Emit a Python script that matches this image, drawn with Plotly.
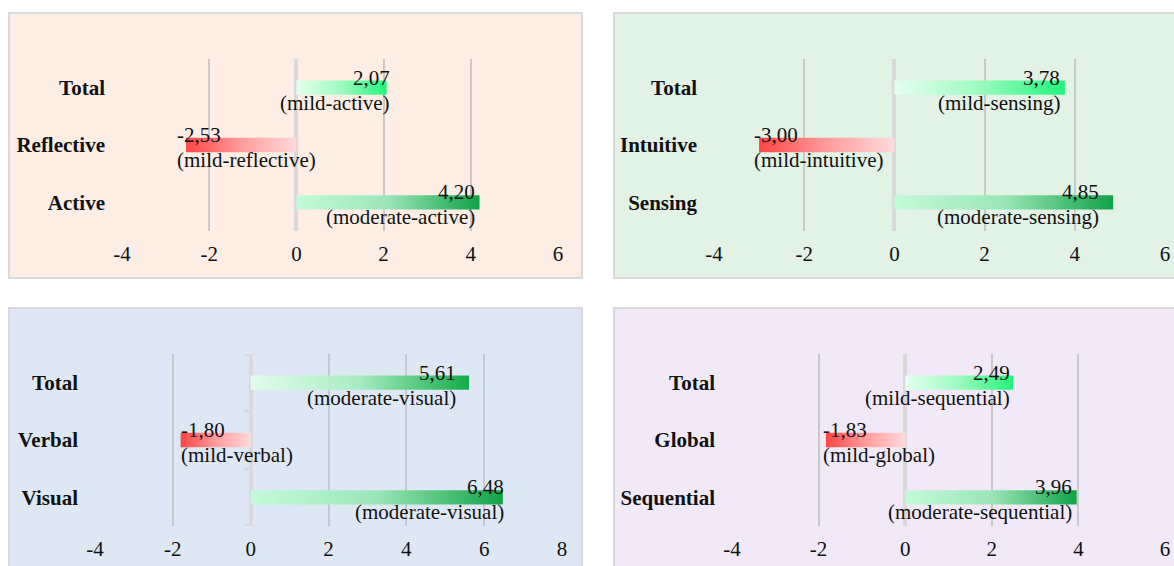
import plotly.graph_objects as go

FONT = "Liberation Serif"
W, H = 1174, 566

# ---------------- data ----------------
ar_categories = ["Total", "Reflective", "Active"]
ar_values = [2.07, -2.53, 4.20]
ar_levels = ["mild-active", "mild-reflective", "moderate-active"]

si_categories = ["Total", "Intuitive", "Sensing"]
si_values = [3.78, -3.00, 4.85]
si_levels = ["mild-sensing", "mild-intuitive", "moderate-sensing"]

vv_categories = ["Total", "Verbal", "Visual"]
vv_values = [5.61, -1.80, 6.48]
vv_levels = ["moderate-visual", "mild-verbal", "moderate-visual"]

sg_categories = ["Total", "Global", "Sequential"]
sg_values = [2.49, -1.83, 3.96]
sg_levels = ["mild-sequential", "mild-global", "moderate-sequential"]

ticks_6 = [-4, -2, 0, 2, 4, 6]
ticks_8 = [-4, -2, 0, 2, 4, 6, 8]

panels = [
    (ar_categories, ar_values, ar_levels, ticks_6),
    (si_categories, si_values, si_levels, ticks_6),
    (vv_categories, vv_values, vv_levels, ticks_8),
    (sg_categories, sg_values, sg_levels, ticks_6),
]

# ---------------- style / layout ----------------
panel_bg = ["#FCEEE4", "#E2F2E5", "#DEE8F4", "#F1E9F8"]
# background boxes in pixels (x0, y0, x1, y1)
panel_box = [(9, 13, 582, 278), (614, 13, 1180, 278), (9, 308, 582, 575), (614, 308, 1180, 575)]
# plot areas in pixels (x0, x1, ytop, ybottom)
plot_px = [(122, 558, 59, 231), (714, 1165, 59, 231), (95, 562, 354, 526), (732, 1165, 354, 526)]
# horizontal nudges (px) of the data labels, per panel / bar
label_shift_px = [[5, -11, -3], [-3, -7, -12], [-11, -2, 3], [-1, -5, -3]]

neg_scale = [[0, "#FF4545"], [0.5, "#FF9C9C"], [1, "#FFDADA"]]
mild_scale = [[0, "#E6FFEF"], [0.5, "#9CFAC0"], [1, "#22F57B"]]
mod_scale = [[0, "#C4FADA"], [0.5, "#9BE6B8"], [1, "#10A346"]]
mod_total_scale = [[0, "#E2FDEB"], [0.5, "#A8EBC2"], [1, "#14AC4B"]]

BAR_HALF = 0.125
LABEL_SIZE = 21
TEXT_COLOR = "#111111"

fig = go.Figure()
shapes = []
annotations = []
layout_axes = {}

for k, (cats, vals, levels, ticks) in enumerate(panels):
    idx = "" if k == 0 else str(k + 1)
    xa, ya = "x" + idx, "y" + idx
    n = len(cats)
    ypos = [n - 1 - i for i in range(n)]  # first category on top

    for i, (c, v, lev) in enumerate(zip(cats, vals, levels)):
        yc = ypos[i]
        if v < 0:
            cs = neg_scale
        elif lev.startswith("mild"):
            cs = mild_scale
        elif c == "Total":
            cs = mod_total_scale
        else:
            cs = mod_scale
        fig.add_trace(go.Scatter(
            x=[0, v, v, 0, 0],
            y=[yc - BAR_HALF, yc - BAR_HALF, yc + BAR_HALF, yc + BAR_HALF, yc - BAR_HALF],
            xaxis=xa, yaxis=ya, mode="lines", fill="toself",
            line=dict(width=0, color="rgba(0,0,0,0)"),
            fillgradient=dict(type="horizontal", colorscale=cs),
            hoverinfo="skip", showlegend=False,
        ))
        pos = v >= 0
        common = dict(
            xref=xa, yref=ya, x=v, y=yc, showarrow=False,
            xanchor="right" if pos else "left",
            xshift=label_shift_px[k][i], yanchor="middle",
            font=dict(family=FONT, size=LABEL_SIZE, color=TEXT_COLOR),
        )
        annotations.append(dict(text=f"{v:.2f}".replace(".", ","), yshift=10, **common))
        annotations.append(dict(text="(" + lev + ")", yshift=-15, **common))

    x0p, x1p, ytp, ybp = plot_px[k]
    layout_axes["xaxis" + idx] = dict(
        domain=[x0p / W, x1p / W], anchor=ya, range=[ticks[0], ticks[-1]],
        tickmode="array", tickvals=ticks, ticktext=[str(t) for t in ticks],
        showgrid=True, gridcolor="#C9C9C9", gridwidth=2,
        zeroline=True, zerolinecolor="#D9D9D9", zerolinewidth=4,
        showline=False, ticks="", ticklabelstandoff=8, automargin=False,
        tickfont=dict(family=FONT, size=LABEL_SIZE, color=TEXT_COLOR),
        fixedrange=True,
    )
    layout_axes["yaxis" + idx] = dict(
        domain=[1 - ybp / H, 1 - ytp / H], anchor=xa, range=[-0.5, n - 0.5],
        tickmode="array", tickvals=ypos, ticktext=cats,
        showgrid=False, zeroline=False, showline=False, ticks="",
        ticklabelstandoff=16, automargin=False,
        tickfont=dict(family=FONT, size=LABEL_SIZE, color=TEXT_COLOR, weight="bold"),
        fixedrange=True,
    )

    bx0, by0, bx1, by1 = panel_box[k]
    shapes.append(dict(
        type="rect", xref="paper", yref="paper", layer="below",
        x0=bx0 / W, x1=bx1 / W, y0=1 - by1 / H, y1=1 - by0 / H,
        fillcolor=panel_bg[k], line=dict(color="#D9D9D9", width=2),
    ))

# bracket-style category ticks on the zero axis of the visual/verbal panel
for b in [-0.5, 0.5, 1.5, 2.5]:
    shapes.append(dict(
        type="line", xref="x3", yref="y3", xsizemode="pixel", xanchor=0,
        x0=-6, x1=0, y0=b, y1=b, line=dict(color="#D9D9D9", width=3),
    ))

fig.update_layout(
    width=W, height=H, margin=dict(l=0, r=0, t=0, b=0, autoexpand=False),
    paper_bgcolor="white", plot_bgcolor="rgba(0,0,0,0)",
    shapes=shapes, annotations=annotations, showlegend=False,
    font=dict(family=FONT),
    **layout_axes,
)

fig.write_html("out.html")
